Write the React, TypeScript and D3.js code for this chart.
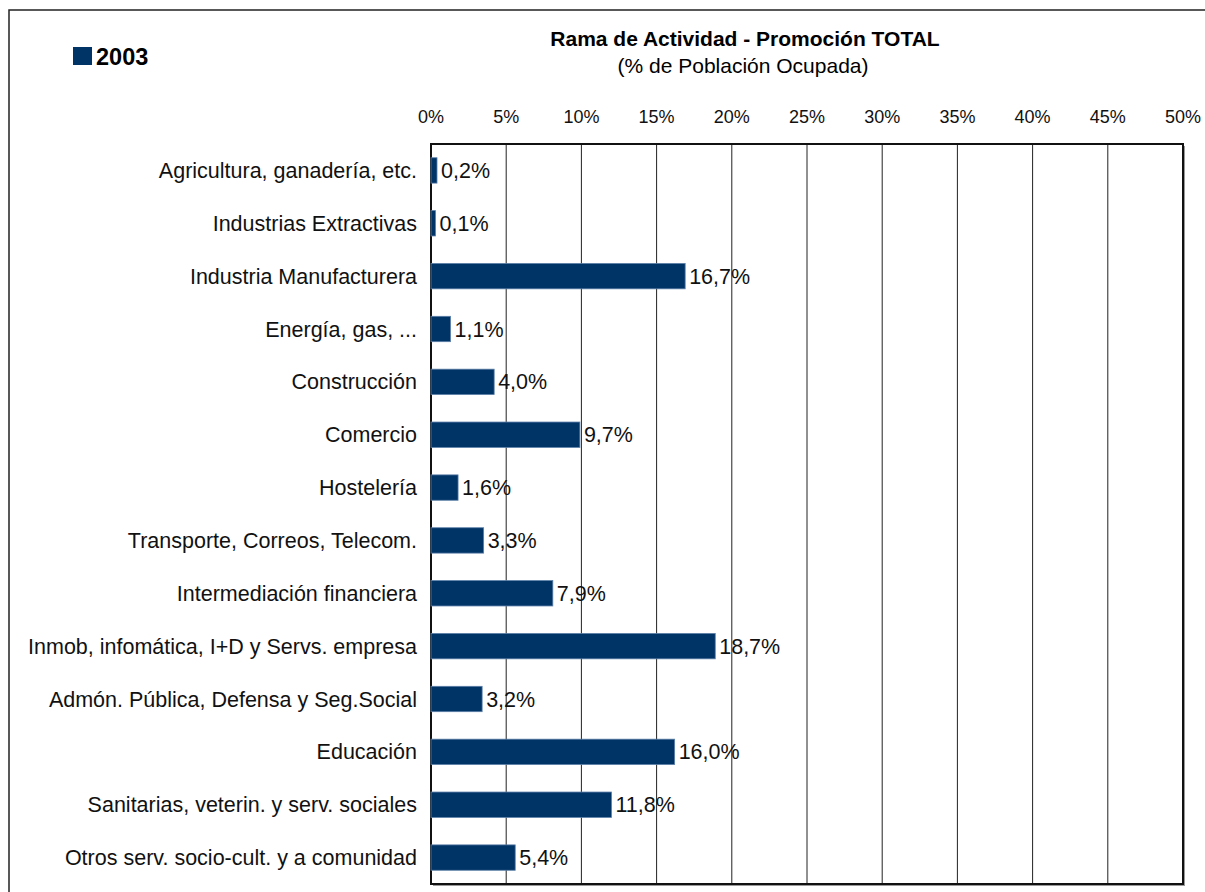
import { useEffect, useRef } from 'react';
import * as d3 from 'd3';

// chart data
const categories = [
  'Agricultura, ganadería, etc.',
  'Industrias Extractivas',
  'Industria Manufacturera',
  'Energía, gas, ...',
  'Construcción',
  'Comercio',
  'Hostelería',
  'Transporte, Correos, Telecom.',
  'Intermediación financiera',
  'Inmob, infomática, I+D y Servs. empresa',
  'Admón. Pública, Defensa y Seg.Social',
  'Educación',
  'Sanitarias, veterin. y serv. sociales',
  'Otros serv. socio-cult. y a comunidad',
];
const values2003 = [0.2, 0.1, 16.7, 1.1, 4.0, 9.7, 1.6, 3.3, 7.9, 18.7, 3.2, 16.0, 11.8, 5.4];
const xTicks = [0, 5, 10, 15, 20, 25, 30, 35, 40, 45, 50];
const seriesName = '2003';
const title = 'Rama de Actividad - Promoción TOTAL';
const subtitle = '(% de Población Ocupada)';

const W = 1205;
const H = 892;
const FONT = 'Liberation Sans, Arial, sans-serif';
const BAR = '#003366';

const esFormat = d3.formatLocale({
  decimal: ',',
  thousands: '.',
  grouping: [3],
  currency: ['', '€'],
});

const App: React.FC = () => {
  const svgRef = useRef<SVGSVGElement | null>(null);

  useEffect(() => {
    const svg = d3.select(svgRef.current);
    svg.selectAll('*').remove();

    const plot = { left: 431, right: 1183, top: 144, bottom: 884 };
    const barExtra = 3; // bars in the original run a little past their value

    const x = d3.scaleLinear().domain([0, 50]).range([plot.left, plot.right]);
    const y = d3.scaleBand<string>()
      .domain(categories)
      .range([plot.top, plot.bottom])
      .paddingInner(0.52)
      .paddingOuter(0.26);

    // outer frame
    svg.append('rect')
      .attr('x', 9).attr('y', 10)
      .attr('width', W + 20).attr('height', H + 20)
      .attr('fill', 'white')
      .attr('stroke', '#222').attr('stroke-width', 1.5);

    // plot shadow
    svg.append('rect')
      .attr('x', plot.left + 2).attr('y', plot.top + 2)
      .attr('width', plot.right - plot.left).attr('height', plot.bottom - plot.top)
      .attr('fill', '#999');
    svg.append('rect')
      .attr('x', plot.left).attr('y', plot.top)
      .attr('width', plot.right - plot.left).attr('height', plot.bottom - plot.top)
      .attr('fill', 'white');

    // gridlines
    svg.append('g')
      .selectAll('line')
      .data(xTicks.slice(1, -1))
      .join('line')
      .attr('x1', (d) => x(d)).attr('x2', (d) => x(d))
      .attr('y1', plot.top).attr('y2', plot.bottom)
      .attr('stroke', '#222').attr('stroke-width', 1);

    // plot border
    svg.append('rect')
      .attr('x', plot.left).attr('y', plot.top)
      .attr('width', plot.right - plot.left).attr('height', plot.bottom - plot.top)
      .attr('fill', 'none')
      .attr('stroke', '#111').attr('stroke-width', 2);

    // x tick labels (top)
    svg.append('g')
      .selectAll('text')
      .data(xTicks)
      .join('text')
      .attr('x', (d) => x(d))
      .attr('y', 123)
      .attr('text-anchor', 'middle')
      .attr('font-family', FONT)
      .attr('font-size', 18)
      .attr('fill', '#111')
      .text((d) => `${d}%`);

    // bars
    svg.append('g')
      .selectAll('rect')
      .data(values2003)
      .join('rect')
      .attr('x', x(0))
      .attr('y', (_, i) => y(categories[i]) ?? 0)
      .attr('width', (d) => x(d) - x(0) + barExtra)
      .attr('height', y.bandwidth())
      .attr('fill', BAR)
      .attr('stroke', '#5b7fa8').attr('stroke-width', 0.8);

    // value labels
    const fmt = esFormat.format('.1f');
    svg.append('g')
      .selectAll('text')
      .data(values2003)
      .join('text')
      .attr('x', (d) => x(d) + barExtra + 4)
      .attr('y', (_, i) => (y(categories[i]) ?? 0) + y.bandwidth() / 2)
      .attr('dy', '0.35em')
      .attr('font-family', FONT)
      .attr('font-size', 21.5)
      .attr('fill', '#111')
      .text((d) => `${fmt(d)}%`);

    // category labels
    svg.append('g')
      .selectAll('text')
      .data(categories)
      .join('text')
      .attr('x', 417)
      .attr('y', (d) => (y(d) ?? 0) + y.bandwidth() / 2)
      .attr('dy', '0.35em')
      .attr('text-anchor', 'end')
      .attr('font-family', FONT)
      .attr('font-size', 21.5)
      .attr('fill', '#111')
      .text((d) => d);

    // titles
    svg.append('text')
      .attr('x', 745).attr('y', 46)
      .attr('text-anchor', 'middle')
      .attr('font-family', FONT)
      .attr('font-size', 21)
      .attr('font-weight', 'bold')
      .text(title);
    svg.append('text')
      .attr('x', 743).attr('y', 73)
      .attr('text-anchor', 'middle')
      .attr('font-family', FONT)
      .attr('font-size', 21)
      .text(subtitle);

    // legend
    svg.append('rect')
      .attr('x', 73).attr('y', 47)
      .attr('width', 19).attr('height', 18)
      .attr('fill', BAR);
    svg.append('text')
      .attr('x', 96).attr('y', 65)
      .attr('font-family', FONT)
      .attr('font-size', 23.5)
      .attr('font-weight', 'bold')
      .text(seriesName);
  }, []);

  return (
    <svg
      ref={svgRef}
      width={W}
      height={H}
      style={{ position: 'absolute', left: 0, top: 0, background: 'white' }}
    />
  );
};

export default App;
